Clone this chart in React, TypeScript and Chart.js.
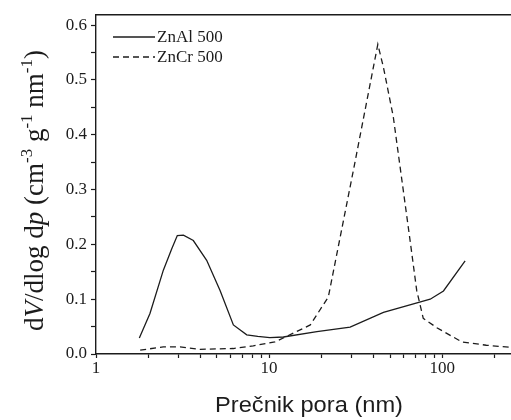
import React, { useEffect, useRef } from 'react';
import { Chart, registerables } from 'chart.js';

Chart.register(...registerables);

// ZnAl 500 (solid)
const znAlX = [1.78, 2.05, 2.45, 2.74, 2.95, 3.2, 3.65, 4.36, 5.21, 6.22, 7.43, 8.6, 10.1, 12.1, 18.9, 29.4, 45.8, 85.3, 101.8, 135.8];
const znAlY = [0.029, 0.074, 0.153, 0.192, 0.216, 0.217, 0.207, 0.171, 0.116, 0.053, 0.035, 0.032, 0.030, 0.031, 0.041, 0.049, 0.076, 0.100, 0.115, 0.170];

// ZnCr 500 (dashed)
const znCrX = [1.8, 2.45, 3.06, 3.99, 6.22, 8.1, 10.8, 13.8, 17.3, 22.0, 30.7, 42.5, 45.8, 52.2, 65.3, 71.3, 77.8, 93.2, 130, 180, 250];
const znCrY = [0.007, 0.013, 0.013, 0.0085, 0.010, 0.015, 0.022, 0.038, 0.053, 0.104, 0.335, 0.565, 0.523, 0.433, 0.207, 0.116, 0.065, 0.048, 0.022, 0.016, 0.012];

const seriesNames = ['ZnAl 500', 'ZnCr 500'];

const xTickValues = [1, 2, 3, 4, 5, 6, 7, 8, 9, 10, 20, 30, 40, 50, 60, 70, 80, 90, 100, 200];
const xTickLabelValues = [1, 10, 100];
const xTickLabels = ['1', '10', '100'];

const yTickLabelValues = [0, 0.1, 0.2, 0.3, 0.4, 0.5, 0.6];
const yTickLabels = ['0.0', '0.1', '0.2', '0.3', '0.4', '0.5', '0.6'];

const xTitle = 'Prečnik pora (nm)';
const yTitleParts: { t: string; k: 'n' | 'i' | 's' }[] = [
  { t: 'd', k: 'n' },
  { t: 'V', k: 'i' },
  { t: '/dlog d', k: 'n' },
  { t: 'p', k: 'i' },
  { t: ' (cm', k: 'n' },
  { t: '-3', k: 's' },
  { t: ' g', k: 'n' },
  { t: '-1', k: 's' },
  { t: ' nm', k: 'n' },
  { t: '-1', k: 's' },
  { t: ')', k: 'n' },
];

const INK = '#1c1c1c';
const SERIF = '"Liberation Serif", "Times New Roman", serif';
const SANS = '"Liberation Sans", Arial, sans-serif';

const decorPlugin = {
  id: 'decor',
  afterDraw(chart: any) {
    const ctx = chart.ctx as CanvasRenderingContext2D;
    const ca = chart.chartArea;
    ctx.save();
    // top frame line
    ctx.strokeStyle = INK;
    ctx.lineWidth = 1.6;
    ctx.beginPath();
    ctx.moveTo(ca.left, ca.top + 0.5);
    ctx.lineTo(ca.right, ca.top + 0.5);
    ctx.stroke();

    // legend
    const lx0 = 113, lx1 = 155;
    const rows = [37, 57];
    ctx.lineWidth = 1.3;
    rows.forEach((ry, i) => {
      ctx.setLineDash(i === 1 ? [6, 4] : []);
      ctx.beginPath();
      ctx.moveTo(lx0, ry);
      ctx.lineTo(lx1, ry);
      ctx.stroke();
      ctx.setLineDash([]);
      ctx.fillStyle = INK;
      ctx.font = `17px ${SERIF}`;
      ctx.textBaseline = 'middle';
      ctx.textAlign = 'left';
      ctx.fillText(seriesNames[i], lx1 + 2, ry + 1);
    });

    // x title
    ctx.font = `22px ${SANS}`;
    ctx.textAlign = 'left';
    ctx.textBaseline = 'alphabetic';
    const w = ctx.measureText(xTitle).width;
    const target = 188;
    ctx.save();
    ctx.translate(215, 412);
    ctx.scale(target / w, 1);
    ctx.fillText(xTitle, 0, 0);
    ctx.restore();

    // y title (rotated, mixed styles)
    const size = 27;
    ctx.save();
    ctx.translate(43, 331);
    ctx.rotate(-Math.PI / 2);
    let cx = 0;
    yTitleParts.forEach((p) => {
      let yoff = 0;
      if (p.k === 'i') ctx.font = `italic ${size}px ${SERIF}`;
      else if (p.k === 's') {
        ctx.font = `${Math.round(size * 0.62)}px ${SERIF}`;
        yoff = -size * 0.42;
      } else ctx.font = `${size}px ${SERIF}`;
      ctx.fillText(p.t, cx, yoff);
      cx += ctx.measureText(p.t).width;
    });
    ctx.restore();
    ctx.restore();
  },
};

export default function App() {
  const ref = useRef<HTMLCanvasElement | null>(null);

  useEffect(() => {
    document.body.style.margin = '0';
    const canvas = ref.current;
    if (!canvas) return;
    const chart = new Chart(canvas, {
      type: 'line',
      data: {
        datasets: [
          {
            label: seriesNames[0],
            data: znAlX.map((x, i) => ({ x, y: znAlY[i] })),
            borderColor: INK,
            borderWidth: 1.3,
            pointRadius: 0,
            tension: 0,
            fill: false,
          },
          {
            label: seriesNames[1],
            data: znCrX.map((x, i) => ({ x, y: znCrY[i] })),
            borderColor: INK,
            borderWidth: 1.3,
            borderDash: [6, 4],
            pointRadius: 0,
            tension: 0,
            fill: false,
          },
        ],
      },
      options: {
        animation: false,
        responsive: false,
        maintainAspectRatio: false,
        layout: { padding: { top: 12, left: 0, right: 0, bottom: 0 } },
        plugins: { legend: { display: false }, tooltip: { enabled: false } },
        scales: {
          x: {
            type: 'logarithmic',
            min: 1,
            max: 250,
            afterBuildTicks: (s: any) => {
              s.ticks = xTickValues.map((v) => ({ value: v }));
            },
            afterFit: (s: any) => {
              s.height = 66;
            },
            grid: { drawOnChartArea: false, drawTicks: true, tickLength: 4, tickColor: INK, tickWidth: 1.2 },
            border: { display: true, color: INK, width: 1.4 },
            ticks: {
              autoSkip: false,
              maxRotation: 0,
              minRotation: 0,
              padding: 0,
              color: INK,
              font: { family: SERIF, size: 17 },
              callback: (v: any) => {
                const idx = xTickLabelValues.findIndex((t) => Math.abs(t - Number(v)) < 1e-9);
                return idx >= 0 ? xTickLabels[idx] : '';
              },
            },
          },
          y: {
            type: 'linear',
            min: 0,
            max: 0.62,
            afterFit: (s: any) => {
              s.width = 96;
            },
            grid: { drawOnChartArea: false, drawTicks: true, tickLength: 5, tickColor: INK, tickWidth: 1.2 },
            border: { display: true, color: INK, width: 1.4 },
            ticks: {
              stepSize: 0.05,
              includeBounds: false,
              padding: 4,
              color: INK,
              font: { family: SERIF, size: 17 },
              callback: (v: any) => {
                const idx = yTickLabelValues.findIndex((t) => Math.abs(t - Number(v)) < 1e-6);
                return idx >= 0 ? yTickLabels[idx] : '';
              },
            },
          },
        },
      },
      plugins: [decorPlugin],
    } as any);
    return () => chart.destroy();
  }, []);

  return <canvas ref={ref} width={511} height={420} style={{ display: 'block' }} />;
}
